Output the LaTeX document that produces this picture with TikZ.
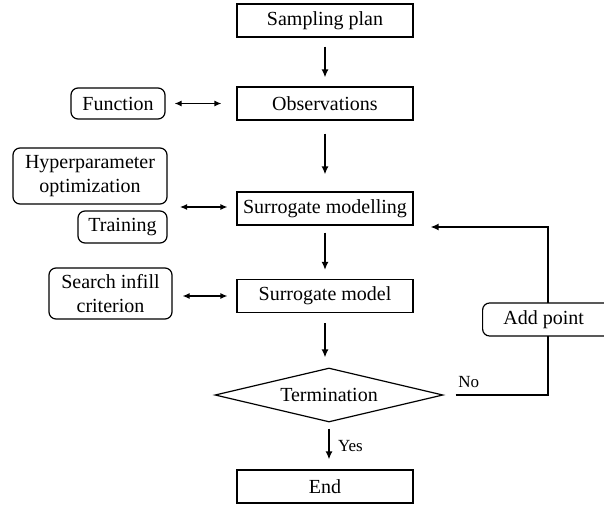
\documentclass[tikz,border=0pt]{standalone}
\usepackage{fontspec}
\setmainfont{Liberation Serif}
\usetikzlibrary{shapes.geometric,arrows.meta,calc}
\begin{document}
\begin{tikzpicture}[x=1pt,y=-1pt,
  font=\fontsize{20}{23}\selectfont,
  box/.style={draw,line width=1.2pt,minimum width=176pt,minimum height=33pt,inner sep=0pt},
  rbox/.style={draw,line width=1.2pt,rounded corners=7pt,inner sep=0pt,align=center},
  arr/.style={line width=1.5pt,-{Latex[length=8pt,width=7pt]}},
  darr/.style={line width=1.2pt,{Latex[length=7pt,width=6pt]}-{Latex[length=7pt,width=6pt]}},
  ln/.style={line width=1.4pt}]
\useasboundingbox (0,0) rectangle (604,508);
\node[box] (sp) at (325,20.5) {Sampling plan};
\node[box] (obs) at (325,103.5) {Observations};
\node[box] (smg) at (325,208.5) {Surrogate modelling};
\node[box] (smd) at (325,296) {Surrogate model};
\node[draw,line width=1.2pt,diamond,aspect=4.2,minimum width=228pt,minimum height=54pt,inner sep=0pt] (term) at (329,395) {Termination};
\node[box] (end) at (325,486.5) {End};

\node[rbox,minimum width=94pt,minimum height=31pt] (fun) at (118,103.5) {Function};
\node[rbox,minimum width=154pt,minimum height=56pt,font=\fontsize{20}{24}\selectfont] (hyp) at (90,176) {Hyperparameter\\optimization};
\node[rbox,minimum width=89pt,minimum height=32pt] (tra) at (122.5,227) {Training};
\node[rbox,minimum width=123pt,minimum height=51pt,font=\fontsize{20}{24}\selectfont] (sic) at (110.5,293.5) {Search infill\\criterion};
\node[rbox,minimum width=140pt,minimum height=33pt,anchor=west] (add) at (482,319.5) {\hspace*{-18pt}Add point};

\coordinate (ht) at (167,207);

\draw[arr,shorten <=9pt,shorten >=9pt] (sp) -- (obs);
\draw[arr,shorten <=13pt,shorten >=17pt] (obs) -- (smg);
\draw[arr,shorten <=7pt,shorten >=9pt] (smg) -- (smd);
\draw[arr,shorten <=10pt,shorten >=10pt] (smd) -- (smd|-term.north);
\draw[arr,shorten <=6pt,shorten >=10pt] (term.south) -- (term.south|-end.north) node[midway,right=5pt,font=\fontsize{17}{19}\selectfont] {Yes};

\draw[darr,shorten <=9pt,shorten >=15pt] (fun.east) -- (obs.west|-fun.east);
\draw[darr,shorten <=13pt,shorten >=9pt] (ht) -- (smg.west|-ht);
\draw[darr,shorten <=10pt,shorten >=9pt] (sic.east|-smd.west) -- (smd.west);

\draw[ln,shorten <=12pt] (term.east) -| (548,336) node[pos=0.12,above=3pt,font=\fontsize{17}{19}\selectfont] {No};
\draw[arr,shorten >=17pt] (548,303) |- (smg.east|-0,227);
\end{tikzpicture}
\end{document}
